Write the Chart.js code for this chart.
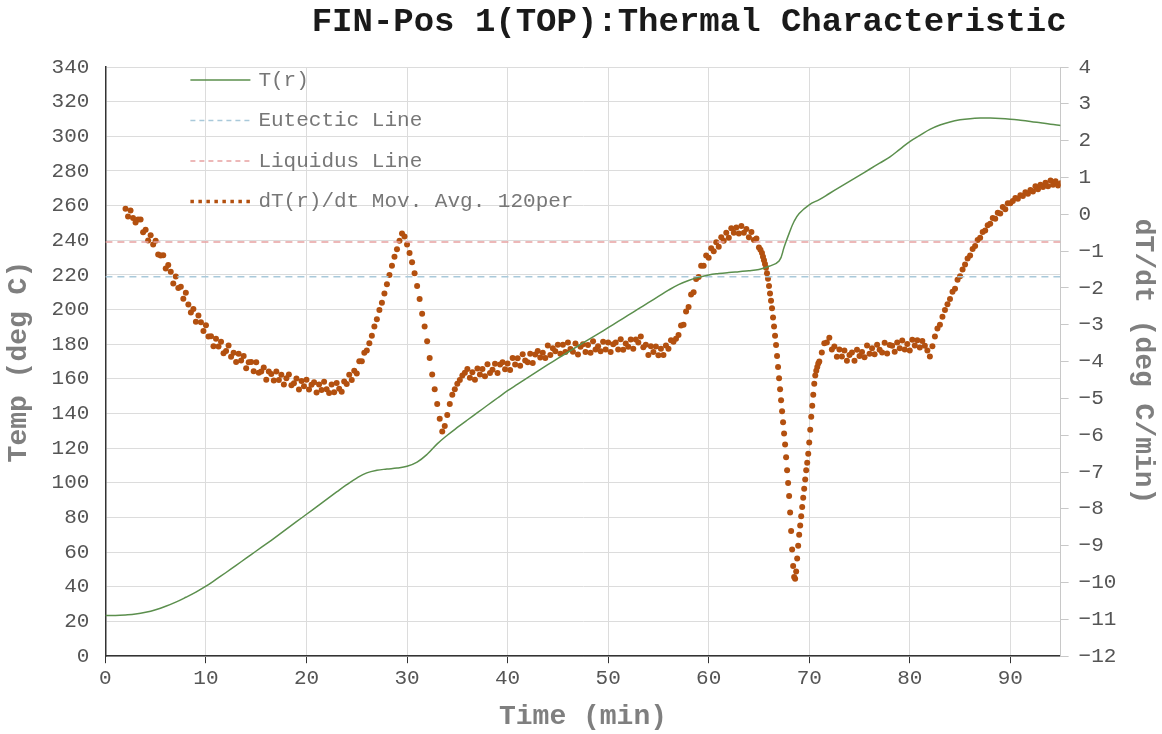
<!DOCTYPE html>
<html>
<head>
<meta charset="utf-8">
<title>FIN-Pos 1(TOP):Thermal Characteristic</title>
<script src="https://cdn.jsdelivr.net/npm/chart.js@4.4.1/dist/chart.umd.min.js"></script>
<style>
  html, body { margin: 0; padding: 0; background: #fff; }
  #wrap { width: 1162px; height: 734px; }
</style>
</head>
<body>
<div id="wrap"><canvas id="chart"></canvas></div>
<script>
const chartTitle = "FIN-Pos 1(TOP):Thermal Characteristic";

// T(r) temperature curve (deg C) vs time (min)
const tempTime = [0, 1, 2, 3, 4, 5, 6, 7, 8, 9, 10, 11, 12, 13, 14, 15, 16, 17, 18, 19, 20,
  21, 22, 23, 24, 25, 26, 27, 28, 29, 30, 31, 32, 33, 34, 35, 36, 37, 38, 39, 40,
  41, 42, 43, 44, 45, 46, 47, 48, 49, 50, 51, 52, 53, 54, 55, 56, 57, 58, 59, 60,
  61, 62, 63, 64, 65, 66, 67, 67.5, 68, 68.5, 69, 70, 71, 72, 73, 74, 75, 76, 77, 78,
  79, 80, 81, 82, 83, 84, 85, 86, 87, 88, 89, 90, 91, 92, 93, 94, 95];
const tempValues = [23.5, 23.5, 23.8, 24.3, 25.3, 26.8, 28.8, 31.2, 34, 37, 40.4, 44.3, 48.3, 52.4, 56.6, 60.7, 64.8, 69, 73.3, 77.6, 81.9,
  86.2, 90.5, 94.8, 99, 102.8, 105.8, 107.3, 108, 108.6, 109.6, 112, 116.5, 122.5, 127.5, 132, 136.3, 140.5, 144.8, 149, 153.2,
  157, 160.8, 164.5, 168.2, 171.8, 175.4, 179, 182.5, 186, 189.6, 193.2, 196.8, 200.4, 204, 207.6, 211.2, 214.4, 216.8, 218.6, 220,
  220.8, 221.4, 221.9, 222.4, 223.2, 225, 228, 236, 244, 251, 255.5, 260.5, 263.5, 267, 270.5, 274, 277.5, 281, 284.5, 288,
  292.5, 297, 300.5, 304, 306.5, 308.3, 309.5, 310.2, 310.5, 310.5, 310.3, 309.9, 309.3, 308.6, 307.8, 307, 306.3];

// reference lines (deg C)
const eutecticTemp = 219;
const liquidusTemp = 239;

// dT(r)/dt moving average (deg C/min) vs time (min)
const rateTime = [2, 2.25, 2.5, 2.75, 3, 3.25, 3.5, 3.75, 4, 4.25, 4.5, 4.75, 5, 5.25, 5.5, 5.75,
  6, 6.25, 6.5, 6.75, 7, 7.25, 7.5, 7.75, 8, 8.25, 8.5, 8.75, 9, 9.25, 9.5, 9.75,
  10, 10.25, 10.5, 10.75, 11, 11.25, 11.5, 11.75, 12, 12.25, 12.5, 12.75, 13, 13.25, 13.5, 13.75,
  14, 14.25, 14.5, 14.75, 15, 15.25, 15.5, 15.75, 16, 16.25, 16.5, 16.75, 17, 17.25, 17.5, 17.75,
  18, 18.25, 18.5, 18.75, 19, 19.25, 19.5, 19.75, 20, 20.25, 20.5, 20.75, 21, 21.25, 21.5, 21.75,
  22, 22.25, 22.5, 22.75, 23, 23.25, 23.5, 23.75, 24, 24.25, 24.5, 24.75, 25, 25.25, 25.5, 25.75,
  26, 26.25, 26.5, 26.75, 27, 27.25, 27.5, 27.75, 28, 28.25, 28.5, 28.75, 29, 29.25, 29.5, 29.75,
  30, 30.25, 30.5, 30.75, 31, 31.25, 31.5, 31.75, 32, 32.25, 32.5, 32.75, 33, 33.25, 33.5, 33.75,
  34, 34.25, 34.5, 34.75, 35, 35.25, 35.5, 35.75,
  36, 36.25, 36.5, 36.75, 37, 37.25, 37.5, 37.75, 38, 38.25, 38.5, 38.75, 39, 39.25, 39.5, 39.75,
  40, 40.25, 40.5, 40.75, 41, 41.25, 41.5, 41.75, 42, 42.25, 42.5, 42.75, 43, 43.25, 43.5, 43.75,
  44, 44.25, 44.5, 44.75, 45, 45.25, 45.5, 45.75, 46, 46.25, 46.5, 46.75, 47, 47.25, 47.5, 47.75,
  48, 48.25, 48.5, 48.75, 49, 49.25, 49.5, 49.75, 50, 50.25, 50.5, 50.75, 51, 51.25, 51.5, 51.75,
  52, 52.25, 52.5, 52.75, 53, 53.25, 53.5, 53.75, 54, 54.25, 54.5, 54.75, 55, 55.25, 55.5, 55.75,
  56, 56.25, 56.5, 56.75, 57, 57.25, 57.5, 57.75, 58, 58.25, 58.5, 58.75, 59, 59.25, 59.5, 59.75,
  60, 60.25, 60.5, 60.75, 61, 61.25, 61.5, 61.75, 62, 62.25, 62.5, 62.75, 63, 63.25, 63.5, 63.75,
  64, 64.25, 64.5, 64.75, 65, 65.15,
  65.3, 65.4, 65.5, 65.6, 65.7, 65.8, 65.9, 66, 66.1, 66.2, 66.3, 66.4, 66.5, 66.6, 66.7, 66.8, 66.9,
  67, 67.1, 67.2, 67.3, 67.4, 67.5, 67.6, 67.7, 67.8, 67.9, 68, 68.1, 68.2, 68.3, 68.4, 68.5, 68.6,
  68.7, 68.8, 68.9, 69, 69.1, 69.2, 69.3, 69.4, 69.5, 69.6, 69.7, 69.8, 69.9, 70, 70.1, 70.2, 70.3,
  70.4, 70.5, 70.6, 70.7, 70.8, 70.9, 71,
  71.25, 71.5, 71.75, 72, 72.25, 72.5, 72.75, 73, 73.25, 73.5, 73.75, 74, 74.25, 74.5, 74.75, 75,
  75.25, 75.5, 75.75, 76, 76.25, 76.5, 76.75, 77, 77.25, 77.5, 77.75, 78, 78.25, 78.5, 78.75, 79,
  79.25, 79.5, 79.75, 80, 80.25, 80.5, 80.75, 81, 81.25, 81.5, 81.75, 82, 82.25, 82.5, 82.75, 83,
  83.25, 83.5, 83.75, 84, 84.25, 84.5, 84.75, 85, 85.25, 85.5, 85.75, 86, 86.25, 86.5, 86.75, 87,
  87.25, 87.5, 87.75, 88, 88.25, 88.5, 88.75, 89, 89.25, 89.5, 89.75, 90, 90.25, 90.5, 90.75, 91,
  91.25, 91.5, 91.75, 92, 92.25, 92.5, 92.75, 93, 93.25, 93.5, 93.75, 94, 94.25, 94.5, 94.75, 95];
const rateValues = [0.15, -0.06, 0.1, -0.1, -0.22, -0.14, -0.14, -0.49, -0.42, -0.71, -0.57, -0.82, -0.72, -1.09, -1.12, -1.11,
  -1.47, -1.38, -1.56, -1.88, -1.69, -2.0, -1.97, -2.29, -2.13, -2.45, -2.67, -2.57, -2.92, -2.75, -2.93, -3.17,
  -3.01, -3.32, -3.31, -3.58, -3.38, -3.59, -3.46, -3.77, -3.71, -3.56, -3.87, -3.76, -4.01, -3.79, -3.97, -3.85,
  -4.18, -4.02, -4.01, -4.26, -4.02, -4.3, -4.27, -4.16, -4.49, -4.27, -4.34, -4.51, -4.27, -4.5, -4.36, -4.62,
  -4.45, -4.35, -4.64, -4.59, -4.46, -4.76, -4.53, -4.67, -4.49, -4.76, -4.63, -4.56, -4.84, -4.62, -4.77, -4.55,
  -4.75, -4.85, -4.62, -4.83, -4.58, -4.74, -4.82, -4.54, -4.61, -4.36, -4.5, -4.25, -4.32, -3.99, -3.99, -3.76,
  -3.7, -3.5, -3.3, -3.05, -2.85, -2.6, -2.4, -2.15, -1.9, -1.65, -1.4, -1.15, -0.95, -0.72, -0.52, -0.6,
  -0.82, -1.05, -1.3, -1.6, -1.95, -2.3, -2.7, -3.05, -3.45, -3.9, -4.35, -4.75, -5.15, -5.55, -5.9, -5.75,
  -5.45, -5.15, -4.9, -4.75, -4.6, -4.5, -4.38, -4.3,
  -4.2, -4.44, -4.29, -4.49, -4.19, -4.35, -4.2, -4.4, -4.07, -4.31, -4.22, -4.06, -4.31, -4.08, -4.02, -4.21,
  -4.05, -4.23, -3.9, -4.08, -3.91, -4.11, -3.8, -3.97, -4.02, -3.79, -4.04, -3.81, -3.71, -3.89, -3.76, -3.9,
  -3.56, -3.82, -3.64, -3.72, -3.54, -3.79, -3.54, -3.74, -3.48, -3.66, -3.73, -3.51, -3.81, -3.6, -3.53, -3.74,
  -3.55, -3.76, -3.45, -3.67, -3.58, -3.72, -3.46, -3.67, -3.48, -3.74, -3.53, -3.48, -3.67, -3.39, -3.68, -3.51,
  -3.6, -3.4, -3.65, -3.4, -3.48, -3.32, -3.61, -3.54, -3.82, -3.58, -3.74, -3.59, -3.83, -3.65, -3.82, -3.56,
  -3.65, -3.42, -3.46, -3.38, -3.28, -3.02, -3.0, -2.64, -2.52, -2.18, -2.12, -1.76, -1.7, -1.4, -1.4, -1.12,
  -1.18, -0.92, -1.0, -0.76, -0.88, -0.62, -0.72, -0.5, -0.64, -0.38, -0.5, -0.36, -0.52, -0.32, -0.5, -0.4,
  -0.62, -0.48, -0.7, -0.66, -0.9, -0.96,
  -1.05, -1.15, -1.25, -1.35, -1.45, -1.6, -1.75, -1.95, -2.15, -2.35, -2.55, -2.8, -3.05, -3.3, -3.55, -3.85, -4.15,
  -4.45, -4.75, -5.05, -5.35, -5.65, -5.95, -6.25, -6.6, -6.95, -7.3, -7.65, -8.1, -8.6, -9.1, -9.55, -9.85, -9.9,
  -9.7, -9.35, -9.0, -8.7, -8.45, -8.2, -7.95, -7.7, -7.45, -7.2, -6.95, -6.75, -6.5, -6.2, -5.85, -5.5, -5.2,
  -4.9, -4.6, -4.38, -4.25, -4.15, -4.05, -4.0,
  -3.75, -3.5, -3.48, -3.35, -3.67, -3.59, -3.87, -3.67, -3.86, -3.7, -3.98, -3.82, -3.75, -3.98, -3.68, -3.85,
  -3.74, -3.88, -3.56, -3.79, -3.64, -3.8, -3.54, -3.68, -3.75, -3.49, -3.78, -3.55, -3.57, -3.73, -3.48, -3.64,
  -3.43, -3.67, -3.52, -3.7, -3.41, -3.56, -3.42, -3.62, -3.44, -3.57, -3.7, -3.86, -3.58, -3.32, -3.1, -3.0,
  -2.78, -2.6, -2.44, -2.3, -2.1, -2.02, -1.78, -1.68, -1.5, -1.36, -1.2, -1.12, -0.94, -0.86, -0.7, -0.64,
  -0.48, -0.44, -0.3, -0.26, -0.1, -0.12, 0.04, 0.02, 0.2, 0.14, 0.3, 0.3, 0.36, 0.44, 0.42, 0.52,
  0.5, 0.6, 0.56, 0.66, 0.62, 0.76, 0.68, 0.8, 0.74, 0.86, 0.76, 0.92, 0.8, 0.9, 0.78, 0.84];

const xMin = 0, xMax = 95;
const tempMin = 0, tempMax = 340;
const rateMin = -12, rateMax = 4;

const green = '#5b8f4d';
const brown = '#b3500f';
const eutecticColor = '#a9c9da';
const liquidusColor = '#e8a1a1';
const mono = "'Liberation Mono', 'Courier New', monospace";

Chart.defaults.font.family = mono;

function pairs(xs, ys) {
  return xs.map((x, i) => ({ x: x, y: ys[i] }));
}

// title and in-plot key, drawn like the original sheet
const titleAndKey = {
  id: 'titleAndKey',
  afterDraw(chart) {
    const ctx = chart.ctx;
    const area = chart.chartArea;
    ctx.save();
    ctx.font = 'bold 34px ' + mono;
    ctx.fillStyle = '#1a1a1a';
    ctx.textAlign = 'right';
    ctx.textBaseline = 'middle';
    ctx.fillText(chartTitle, area.right + 6, 22);

    ctx.font = '21px ' + mono;
    ctx.textAlign = 'left';
    const x0 = area.left + 85;
    let y = area.top + 13;
    chart.data.datasets.forEach(ds => {
      ctx.beginPath();
      if (ds.showLine === false) {
        ctx.strokeStyle = ds.pointBackgroundColor;
        ctx.lineWidth = 3.5;
        ctx.setLineDash([3.5, 4.5]);
      } else {
        ctx.strokeStyle = ds.borderColor;
        ctx.lineWidth = ds.borderWidth;
        ctx.setLineDash(ds.borderDash ? [5, 4] : []);
      }
      ctx.moveTo(x0, y);
      ctx.lineTo(x0 + 60, y);
      ctx.stroke();
      ctx.setLineDash([]);
      ctx.fillStyle = '#777';
      ctx.fillText(ds.label, x0 + 68, y);
      y += 40.5;
    });
    ctx.restore();
  }
};

new Chart(document.getElementById('chart'), {
  type: 'line',
  data: {
    datasets: [
      {
        label: 'T(r)',
        data: pairs(tempTime, tempValues),
        borderColor: green,
        borderWidth: 1.5,
        pointRadius: 0,
        tension: 0.4,
        yAxisID: 'y'
      },
      {
        label: 'Eutectic Line',
        data: [{ x: xMin, y: eutecticTemp }, { x: xMax, y: eutecticTemp }],
        borderColor: eutecticColor,
        borderWidth: 1.5,
        borderDash: [7, 5],
        pointRadius: 0,
        yAxisID: 'y'
      },
      {
        label: 'Liquidus Line',
        data: [{ x: xMin, y: liquidusTemp }, { x: xMax, y: liquidusTemp }],
        borderColor: liquidusColor,
        borderWidth: 1.5,
        borderDash: [7, 5],
        pointRadius: 0,
        yAxisID: 'y'
      },
      {
        label: 'dT(r)/dt Mov. Avg. 120per',
        data: pairs(rateTime, rateValues),
        showLine: false,
        pointRadius: 3,
        pointBorderWidth: 0,
        pointBackgroundColor: brown,
        borderColor: brown,
        yAxisID: 'y1'
      }
    ]
  },
  options: {
    responsive: true,
    maintainAspectRatio: false,
    animation: false,
    layout: { padding: { top: 67, left: 2, right: 0, bottom: 0 } },
    plugins: {
      legend: { display: false },
      tooltip: { enabled: false }
    },
    scales: {
      x: {
        type: 'linear',
        min: xMin,
        max: xMax,
        ticks: { stepSize: 10, includeBounds: false, color: '#555', font: { size: 21 }, padding: 3 },
        grid: { color: '#dcdcdc', tickColor: '#333', tickLength: 7 },
        border: { color: '#333', width: 1.5 },
        title: { display: true, text: 'Time (min)', color: '#7f7f7f', font: { size: 28, weight: 'bold' }, padding: { top: 6, bottom: 0 } }
      },
      y: {
        position: 'left',
        min: tempMin,
        max: tempMax,
        ticks: { stepSize: 20, color: '#555', font: { size: 21 }, padding: 16 },
        grid: { color: '#dcdcdc', drawTicks: false },
        border: { color: '#333', width: 1.5 },
        title: { display: true, text: 'Temp (deg C)', color: '#7f7f7f', font: { size: 28, weight: 'bold' }, padding: { top: 0, bottom: 0 } }
      },
      y1: {
        position: 'right',
        min: rateMin,
        max: rateMax,
        ticks: {
          stepSize: 1, color: '#555', font: { size: 21 }, padding: 10,
          callback: v => String(v).replace('-', '\u2212')
        },
        grid: { drawOnChartArea: false, color: '#c8c8c8', tickLength: 8 },
        border: { color: '#c8c8c8', width: 1 },
        title: { display: true, text: 'dT/dt (deg C/min)', color: '#7f7f7f', font: { size: 28, weight: 'bold' }, padding: { top: 2, bottom: 0 } }
      }
    }
  },
  plugins: [titleAndKey]
});
</script>
</body>
</html>
